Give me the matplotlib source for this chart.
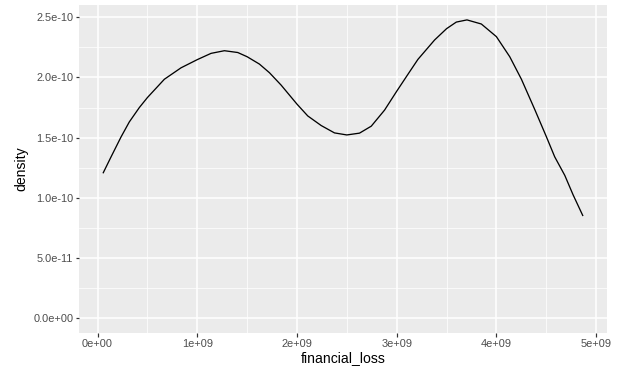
import matplotlib
matplotlib.use("Agg")
import matplotlib.pyplot as plt
import numpy as np

# density curve (x in 1e9, y in 1e-10)
loss = [0.057, 0.134, 0.235, 0.318, 0.419, 0.5, 0.670, 0.837, 1.0, 1.138,
        1.272, 1.406, 1.5, 1.623, 1.724, 1.841, 2.0, 2.108, 2.243, 2.376,
        2.5, 2.627, 2.745, 2.878, 3.0, 3.112, 3.213, 3.380, 3.5, 3.598,
        3.705, 3.849, 4.0, 4.134, 4.251, 4.384, 4.5, 4.585, 4.686, 4.769, 4.866]
dens = [1.208, 1.338, 1.505, 1.630, 1.750, 1.833, 1.985, 2.080, 2.148, 2.200,
        2.222, 2.207, 2.172, 2.111, 2.039, 1.936, 1.778, 1.680, 1.600, 1.539,
        1.522, 1.537, 1.595, 1.728, 1.885, 2.025, 2.150, 2.311, 2.405, 2.460,
        2.478, 2.444, 2.339, 2.172, 1.985, 1.735, 1.510, 1.340, 1.186, 1.025, 0.853]

xticks = [0, 1e9, 2e9, 3e9, 4e9, 5e9]
xlabels = ["0e+00", "1e+09", "2e+09", "3e+09", "4e+09", "5e+09"]
yticks = [0, 5e-11, 1e-10, 1.5e-10, 2e-10, 2.5e-10]
ylabels = ["0.0e+00", "5.0e-11", "1.0e-10", "1.5e-10", "2.0e-10", "2.5e-10"]

x = np.array(loss) * 1e9
y = np.array(dens) * 1e-10

plt.rcParams['font.family'] = ['Liberation Sans', 'DejaVu Sans']

fig = plt.figure(figsize=(621 / 72, 373 / 72), dpi=72)
ax = fig.add_axes([79.3 / 621, 1 - 333 / 373, (606.7 - 79.3) / 621, (333 - 5) / 373])
ax.set_facecolor("#EBEBEB")
for s in ax.spines.values():
    s.set_visible(False)

ax.plot(x, y, color="black", lw=1.3, zorder=3, solid_joinstyle="round")

# ggplot-like expansion
xr = x.max() - x.min()
ax.set_xlim(x.min() - 0.05 * xr, x.max() + 0.05 * xr)
ymax = y.max()
ax.set_ylim(-0.05 * ymax, ymax * 1.05)

ax.set_xticks(xticks)
ax.set_xticklabels(xlabels)
ax.set_yticks(yticks)
ax.set_yticklabels(ylabels)
ax.set_xticks([0.5e9, 1.5e9, 2.5e9, 3.5e9, 4.5e9], minor=True)
ax.set_yticks([2.5e-11, 7.5e-11, 1.25e-10, 1.75e-10, 2.25e-10], minor=True)

ax.grid(which="major", color="white", lw=1.5)
ax.grid(which="minor", color="white", lw=0.7)
ax.set_axisbelow(True)

ax.tick_params(which="major", length=3.5, width=1.2, color="#333333",
               labelsize=11, labelcolor="#4D4D4D", pad=2.5)
ax.tick_params(which="minor", length=0)

ax.set_xlabel("financial_loss", fontsize=14, color="black", labelpad=2)
ax.set_ylabel("density", fontsize=14, color="black", labelpad=5)

fig.savefig("out.png", dpi=72)
